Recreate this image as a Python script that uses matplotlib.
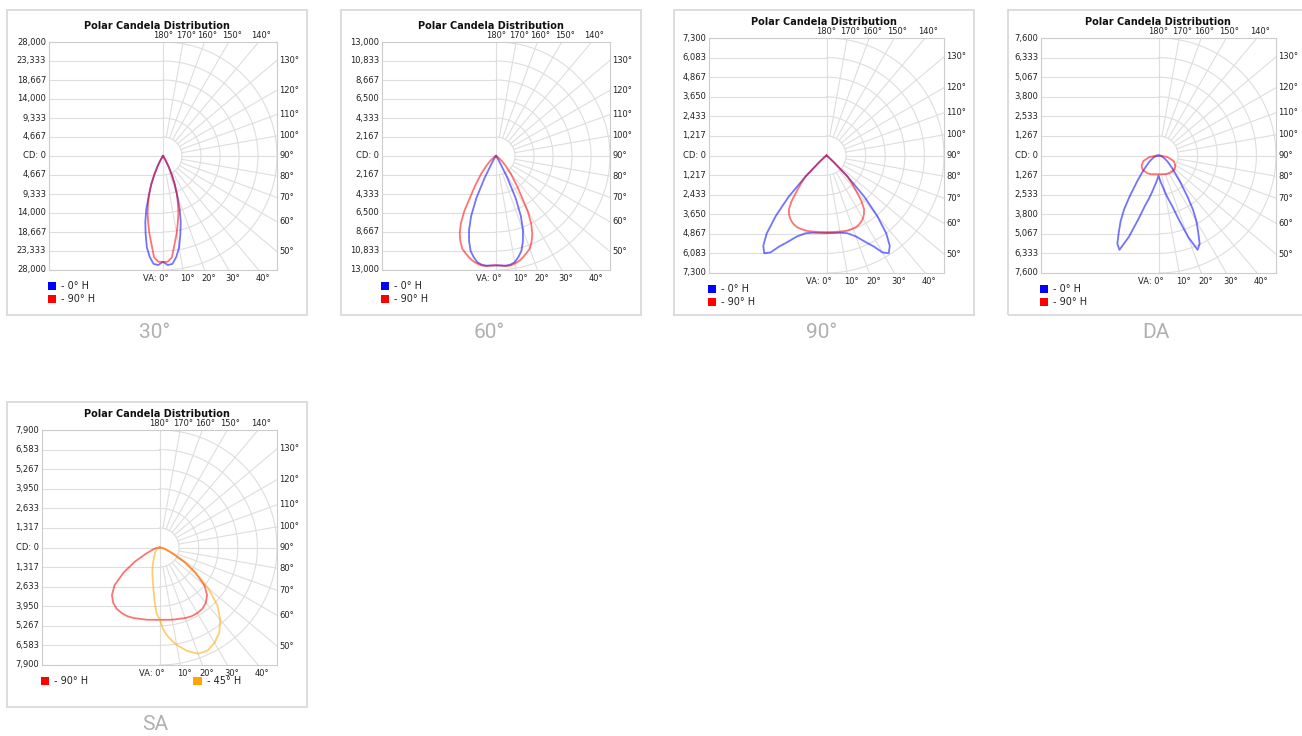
import numpy as np
import matplotlib.pyplot as plt
from matplotlib.patches import Rectangle, Patch

W, H = 1302, 736

# --- data -------------------------------------------------------------
captions = ["30°", "60°", "90°", "DA", "SA"]
cd_max = [28000, 13000, 7300, 7600, 7900]

# 30° beam
va_30 = [0, 2.5, 5, 7.5, 10, 12.5, 15, 17.5, 20, 22.5, 25, 27.5, 30, 35, 40, 50, 60, 70, 80, 90]
cd_30_0h = [26000, 26800, 26600, 25000, 22800, 19700, 16800, 13600, 10000, 7500, 5000, 3000, 1500, 400, 100, 0, 0, 0, 0, 0]
cd_30_90h = [26000, 26000, 25000, 21800, 19300, 16800, 14600, 12200, 10000, 7600, 5200, 3200, 1700, 500, 150, 0, 0, 0, 0, 0]

# 60° beam
va_60 = [0, 2.5, 5, 7.5, 10, 12.5, 15, 17.5, 20, 22.5, 25, 27.5, 30, 35, 40, 45, 50, 55, 60, 70, 80, 90]
cd_60_0h = [12470, 12500, 12550, 12500, 12300, 11800, 11200, 10200, 9000, 7400, 5300, 2800, 1000, 300, 100, 0, 0, 0, 0, 0, 0, 0]
cd_60_90h = [12470, 12500, 12600, 12600, 12450, 12250, 11950, 11600, 11250, 10600, 9800, 8700, 7200, 4200, 2600, 1500, 800, 400, 200, 100, 0, 0]

# 90° beam
va_90 = [0, 5, 10, 15, 20, 22.5, 25, 27.5, 30, 32.5, 35, 37.5, 40, 42.5, 45, 47.5, 50, 60, 70, 80, 90]
cd_90_0h = [4820, 4830, 4870, 5000, 5350, 5650, 6000, 6380, 6950, 7200, 6850, 6100, 4900, 3500, 1850, 600, 200, 50, 0, 0, 0]
cd_90_90h = [4760, 4770, 4800, 4840, 4830, 4810, 4750, 4650, 4520, 4330, 4070, 3550, 2850, 2300, 1800, 600, 200, 50, 0, 0, 0]

# DA (double asymmetric)
va_da = [0, 2.5, 5, 7.5, 10, 12.5, 15, 17.5, 20, 22.5, 25, 27.5, 30, 32.5, 35, 40, 45, 50, 55, 60, 70, 80, 90]
cd_da_0h = [1310, 1500, 1750, 2020, 2400, 2850, 3350, 4300, 5600, 6600, 6300, 5550, 4900, 4150, 3300, 2100, 1400, 1000, 750, 550, 300, 120, 0]
cd_da_90h = [1210, 1210, 1220, 1220, 1230, 1240, 1250, 1270, 1290, 1300, 1310, 1330, 1340, 1350, 1350, 1360, 1370, 1360, 1320, 1250, 1050, 600, 100]

# SA (single asymmetric)
va_sa = [0, 2.5, 5, 7.5, 10, 15, 20, 25, 30, 35, 40, 45, 50, 55, 60, 65, 70, 75, 80, 90]
cd_sa_90h = [4860, 4870, 4880, 4900, 4930, 4970, 5050, 5100, 5090, 5030, 4850, 4520, 3950, 2950, 1950, 1050, 600, 380, 200, 0]
cd_sa_45h_r = [4800, 5500, 5950, 6300, 6650, 7200, 7600, 7650, 7400, 7000, 6350, 5500, 4300, 2950, 1950, 1050, 600, 380, 200, 0]
cd_sa_45h_l = [4800, 4450, 3700, 3000, 2500, 1850, 1350, 950, 720, 550, 450, 360, 300, 260, 220, 180, 140, 100, 70, 0]

# (label, colour, right side, left side)
series = [
    (va_30, [("- 0° H", "#0000ff", cd_30_0h, cd_30_0h), ("- 90° H", "#ff0000", cd_30_90h, cd_30_90h)]),
    (va_60, [("- 0° H", "#0000ff", cd_60_0h, cd_60_0h), ("- 90° H", "#ff0000", cd_60_90h, cd_60_90h)]),
    (va_90, [("- 0° H", "#0000ff", cd_90_0h, cd_90_0h), ("- 90° H", "#ff0000", cd_90_90h, cd_90_90h)]),
    (va_da, [("- 0° H", "#0000ff", cd_da_0h, cd_da_0h), ("- 90° H", "#ff0000", cd_da_90h, cd_da_90h)]),
    (va_sa, [("- 90° H", "#ff0000", cd_sa_90h, cd_sa_90h), ("- 45° H", "#ffa500", cd_sa_45h_r, cd_sa_45h_l)]),
]

# --- layout (pixels) ---------------------------------------------------
box_left = [7, 341, 674, 1008, 7]
box_top = [10, 10, 10, 10, 402]
plot_left = [49, 382, 709, 1041, 42]
plot_top = [42, 42, 38, 38, 430]
plot_size = [228, 228, 235, 235, 235]

grid_c = "#dedede"
text_c = "#222222"


def fx(px):
    return px / W


def fy(py):
    return 1 - py / H


fig = plt.figure(figsize=(W / 100, H / 100), dpi=100)

for i in range(5):
    bx, by = box_left[i], box_top[i]
    pl, pt, ps = plot_left[i], plot_top[i], plot_size[i]
    M = cd_max[i]
    step = M / 6

    fig.patches.append(Rectangle((fx(bx), fy(by + 305)), 300 / W, 305 / H,
                                 transform=fig.transFigure, fill=False,
                                 ec="#dadada", lw=1.3))
    fig.text(fx(bx + 148), fy(by + 322), captions[i], ha="center", va="center",
             fontsize=15, color="#b0b0b0", family="Roboto")
    fig.text(fx(bx + 150), fy(pt - 16), "Polar Candela Distribution",
             ha="center", va="center", fontsize=7, fontweight="bold", color="#111111")

    ax = fig.add_axes([fx(pl), fy(pt + ps), ps / W, ps / H])
    ax.set_xlim(-M, M)
    ax.set_ylim(-M, M)
    ax.set_xticks([])
    ax.set_yticks([])
    for s in ax.spines.values():
        s.set_color("#cccccc")
        s.set_linewidth(0.8)

    # grid: half rings on the right, flat lines on the left
    t = np.linspace(0, np.pi, 181)
    for k in range(1, 7):
        r = k * step
        ax.plot(r * np.sin(t), -r * np.cos(t), color=grid_c, lw=0.8, zorder=1)
        ax.plot([-M, 0], [r, r], color=grid_c, lw=0.8, zorder=1)
        ax.plot([-M, 0], [-r, -r], color=grid_c, lw=0.8, zorder=1)
    ax.plot([-M, 0], [0, 0], color=grid_c, lw=0.8, zorder=1)
    ax.plot([0, 0], [-M, M], color=grid_c, lw=0.8, zorder=1)
    for a in range(10, 180, 10):
        th = np.radians(a)
        ax.plot([step * np.sin(th), 2 * M * np.sin(th)],
                [-step * np.cos(th), -2 * M * np.cos(th)], color=grid_c, lw=0.8, zorder=1)

    # CD labels
    for k in range(-6, 7):
        v = k * step
        lab = "CD: 0" if k == 0 else f"{abs(v):,.0f}"
        ax.annotate(lab, xy=(-M, v), xytext=(-2, 0), textcoords="offset points",
                    ha="right", va="center", fontsize=6, color=text_c, annotation_clip=False)
    # angle labels
    for a in [180, 170, 160, 150, 140]:
        x = M * np.tan(np.radians(180 - a))
        ax.annotate(f"{a}°", xy=(x, M), xytext=(0 if a == 180 else 2, 1.5),
                    textcoords="offset points", ha="center", va="bottom",
                    fontsize=6, color=text_c, annotation_clip=False)
    for a in range(130, 40, -10):
        y = -M / np.tan(np.radians(a))
        ax.annotate(f"{a}°", xy=(M, y), xytext=(1.5, 0), textcoords="offset points",
                    ha="left", va="center", fontsize=6, color=text_c, annotation_clip=False)
    ax.annotate("VA: 0°", xy=(0, -M), xytext=(4, -3), textcoords="offset points",
                ha="right", va="top", fontsize=6, color=text_c, annotation_clip=False)
    for a in [10, 20, 30, 40]:
        x = M * np.tan(np.radians(a))
        ax.annotate(f"{a}°", xy=(x, -M), xytext=(3, -3), textcoords="offset points",
                    ha="center", va="top", fontsize=6, color=text_c, annotation_clip=False)

    # curves
    va, lines = series[i]
    th = np.radians(np.array(va, dtype=float))
    handles = []
    for lab, col, right, left in lines:
        right = np.array(right, dtype=float)
        left = np.array(left, dtype=float)
        xs = np.concatenate([-(left * np.sin(th))[::-1], right * np.sin(th)])
        ys = np.concatenate([-(left * np.cos(th))[::-1], -right * np.cos(th)])
        ax.plot(xs, ys, color=col, lw=1.3, alpha=0.55, zorder=3, solid_joinstyle="round")
        handles.append(Patch(facecolor=col, edgecolor="none", label=lab))

    ncol = 2 if i == 4 else 1
    ax.legend(handles=handles, loc="upper left", bbox_to_anchor=(-1.5 / ps, -11 / ps),
              bbox_transform=ax.transAxes, frameon=False, fontsize=7, ncol=ncol,
              handlelength=0.9, handleheight=0.9, handletextpad=0.5, labelspacing=0.3,
              borderpad=0, borderaxespad=0, columnspacing=10.8, labelcolor="#222222")

fig.savefig("out.png", dpi=100)
